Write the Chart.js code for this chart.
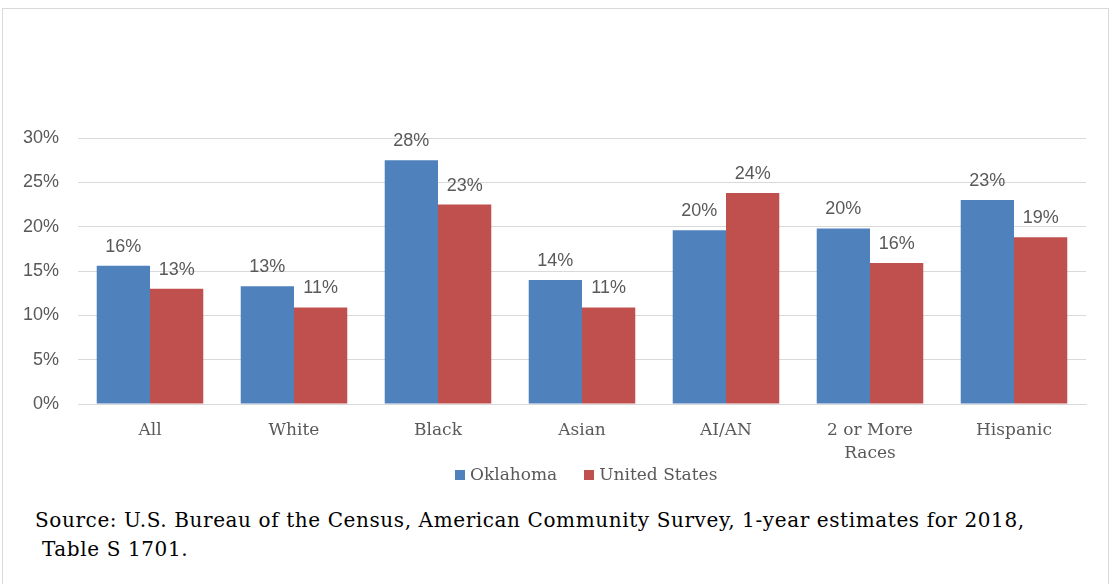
<!DOCTYPE html>
<html>
<head>
<meta charset="utf-8">
<script src="https://cdn.jsdelivr.net/npm/chart.js@4"></script>
<style>
  body { margin: 0; background: #fff; }
  #frame { position: absolute; left: 2px; top: 8px; width: 1105px; height: 600px; border: 1px solid #d9d9d9; }
  #wrap { position: absolute; left: 0; top: 0; width: 1112px; height: 500px; }
  #legend { position: absolute; left: 455px; top: 463px; font-family: "DejaVu Serif", serif; font-size: 17px; line-height: 22px; color: #595959; white-space: nowrap; }
  #legend span.item { display: inline-block; margin-right: 27px; }
  #legend span.box { display: inline-block; width: 10px; height: 10px; margin-right: 5px; vertical-align: 0px; }
  #source { position: absolute; left: 35px; top: 506px; margin: 0; font-family: "DejaVu Serif", serif; font-size: 20px; letter-spacing: 0.6px; line-height: 29px; color: #000; white-space: nowrap; }
</style>
</head>
<body>
<div id="frame"></div>
<div id="wrap"><canvas id="chart" width="1112" height="500"></canvas></div>
<div id="legend"></div>
<p id="source">Source: U.S. Bureau of the Census, American Community Survey, 1-year estimates for 2018,<br>&nbsp;Table S 1701.</p>
<script>
const categories = ['All', 'White', 'Black', 'Asian', 'AI/AN', ['2 or More', 'Races'], 'Hispanic'];
const oklahoma = [15.6, 13.3, 27.5, 14.0, 19.6, 19.8, 23.0];
const unitedStates = [13.0, 10.9, 22.5, 10.9, 23.8, 15.9, 18.8];
const yTicks = [0, 5, 10, 15, 20, 25, 30];

// draws the rounded % value above each bar
const barLabels = {
  id: 'barLabels',
  afterDatasetsDraw(chart) {
    const ctx = chart.ctx;
    ctx.save();
    ctx.font = '18px "Liberation Sans", sans-serif';
    ctx.fillStyle = '#595959';
    ctx.textAlign = 'center';
    ctx.textBaseline = 'alphabetic';
    chart.data.datasets.forEach((ds, i) => {
      chart.getDatasetMeta(i).data.forEach((bar, j) => {
        ctx.fillText(Math.round(ds.data[j]) + '%', bar.x, bar.y - 14);
      });
    });
    ctx.restore();
  }
};

const chart = new Chart(document.getElementById('chart'), {
  type: 'bar',
  data: {
    labels: categories,
    datasets: [
      { label: 'Oklahoma', data: oklahoma, backgroundColor: '#4F81BD' },
      { label: 'United States', data: unitedStates, backgroundColor: '#C0504D' }
    ]
  },
  options: {
    responsive: false,
    animation: false,
    layout: { padding: { top: 138, right: 26, left: 0, bottom: 28 } },
    datasets: { bar: { categoryPercentage: 0.74, barPercentage: 1.0 } },
    plugins: {
      tooltip: { enabled: false },
      legend: { display: false }
    },
    scales: {
      x: {
        grid: { display: false },
        border: { display: true, color: '#d9d9d9' },
        ticks: {
          color: '#595959', padding: 7, maxRotation: 0,
          font: { family: '"DejaVu Serif", serif', size: 17, lineHeight: 1.35 }
        }
      },
      y: {
        min: 0, max: 30,
        afterBuildTicks: s => { s.ticks = yTicks.map(v => ({ value: v })); },
        grid: { color: '#d9d9d9', drawTicks: false },
        border: { display: false },
        ticks: {
          color: '#595959', padding: 19,
          font: { family: '"Liberation Sans", sans-serif', size: 18 },
          callback: v => v + '%'
        },
        afterFit: s => { s.width = 78; }
      }
    }
  },
  plugins: [barLabels]
});

// legend built from the chart's datasets
const legendEl = document.getElementById('legend');
chart.data.datasets.forEach(ds => {
  const item = document.createElement('span');
  item.className = 'item';
  const box = document.createElement('span');
  box.className = 'box';
  box.style.background = ds.backgroundColor;
  item.appendChild(box);
  item.appendChild(document.createTextNode(ds.label));
  legendEl.appendChild(item);
});
</script>
</body>
</html>
